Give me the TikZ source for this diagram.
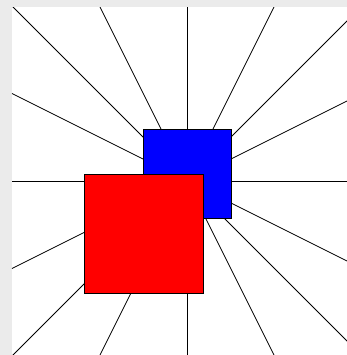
\documentclass[tikz,border=0pt]{standalone}
\usepackage{tikz}

\begin{document}
\begin{tikzpicture}[x=0.75pt,y=-0.75pt,line width=0.6pt]
  \fill[black!8] (0,0) rectangle (347,355);
  \useasboundingbox (0,0) rectangle (347,355);
  \fill[white] (12,7) rectangle (347,355);
  \coordinate (c) at (187,181);
  % rays from the centre to the frame
  \begin{scope}
    \clip (12,7) rectangle (347,355);
    \foreach \d in {-175,-87.5,0,87.5,175} {
      \draw (c) -- ++(\d,-175);
      \draw (c) -- ++(\d,175);
    }
    \foreach \d in {-87.5,0,87.5} {
      \draw (c) -- ++(-175,\d);
      \draw (c) -- ++(175,\d);
    }
  \end{scope}
  \draw[fill=blue] (143,129) rectangle (231,218);
  \draw[fill=red] (84,174) rectangle (203,293);
\end{tikzpicture}
\end{document}
